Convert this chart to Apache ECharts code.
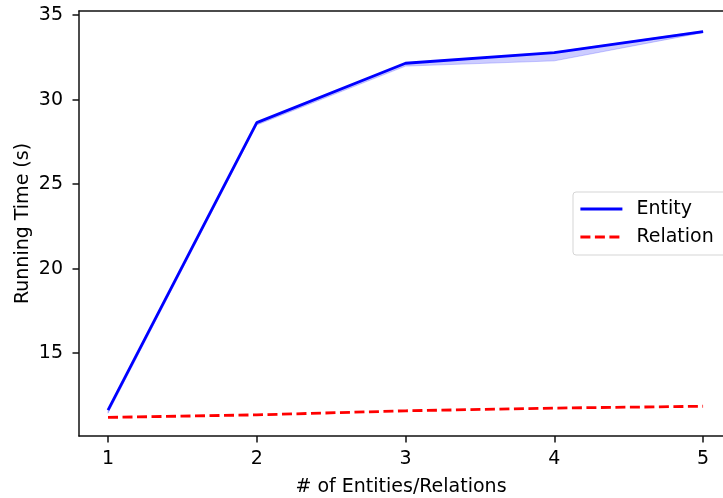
<!DOCTYPE html>
<html>
<head>
<meta charset="utf-8">
<script src="https://cdn.jsdelivr.net/npm/echarts@6/dist/echarts.min.js"></script>
<style>html,body{margin:0;padding:0;background:#fff}#c{width:723px;height:498px}</style>
</head>
<body>
<div id="c"></div>
<script>
const xValues = [1, 2, 3, 4, 5];
const entity = [11.63, 28.64, 32.15, 32.78, 34.02];
const entityLow = [11.45, 28.5, 31.98, 32.29, 33.96];
const entityHigh = [11.66, 28.66, 32.17, 32.8, 34.06];
const relation = [11.2, 11.35, 11.59, 11.75, 11.86];
const xTicks = [1, 2, 3, 4, 5];
const yTicks = [15, 20, 25, 30, 35];

const pair = (ys) => xValues.map((x, i) => [x, ys[i]]);
const FONT = 'DejaVu Sans';
const FS = 19;
const SPINE = {color: '#111', width: 1.5};

const chart = echarts.init(document.getElementById('c'), null, {renderer: 'canvas'});
chart.setOption({
  animation: false,
  backgroundColor: '#fff',
  textStyle: {fontFamily: FONT},
  grid: {left: 79, top: 11, right: 0, bottom: 62, show: false, containLabel: false, outerBoundsMode: 'none'},
  legend: {
    data: ['Entity', 'Relation'],
    orient: 'vertical',
    left: 573, top: 192,
    padding: [7, 20, 8, 6],
    itemWidth: 42, itemHeight: 14, itemGap: 8,
    borderColor: '#d5d5d5', borderWidth: 1, borderRadius: 3,
    backgroundColor: '#fff',
    itemStyle: {opacity: 0},
    lineStyle: {width: 2.8},
    textStyle: {fontFamily: FONT, fontSize: FS, color: '#000', lineHeight: 20, padding: [0, 0, 0, 9]}
  },
  xAxis: [{
    type: 'value', min: 0.805, max: 5.134, position: 'bottom',
    name: '# of Entities/Relations', nameLocation: 'middle', nameGap: 42,
    nameTextStyle: {fontFamily: FONT, fontSize: FS, color: '#000'},
    axisLine: {show: true, lineStyle: SPINE},
    axisTick: {show: true, length: 6.5, lineStyle: SPINE, customValues: xTicks},
    axisLabel: {fontFamily: FONT, fontSize: FS, color: '#000', margin: 14, customValues: xTicks},
    splitLine: {show: false}
  }, {
    type: 'value', min: 0.805, max: 5.134, position: 'top',
    axisLine: {show: true, lineStyle: SPINE},
    axisTick: {show: false}, axisLabel: {show: false}, splitLine: {show: false}
  }],
  yAxis: {
    type: 'value', min: 10.1, max: 35.24,
    name: 'Running Time (s)', nameLocation: 'middle', nameGap: 46, nameMoveOverlap: false,
    nameTextStyle: {fontFamily: FONT, fontSize: FS, color: '#000'},
    axisLine: {show: true, lineStyle: SPINE},
    axisTick: {show: true, length: 6.5, lineStyle: SPINE, customValues: yTicks},
    axisLabel: {fontFamily: FONT, fontSize: FS, color: '#000', margin: 16, customValues: yTicks},
    splitLine: {show: false}
  },
  series: [
    {name: 'band', type: 'custom', silent: true, z: 1,
     data: [[xValues[0], entityLow[0]]],
     renderItem: function (params, api) {
       const pts = [];
       for (let i = 0; i < xValues.length; i++) pts.push(api.coord([xValues[i], entityHigh[i]]));
       for (let i = xValues.length - 1; i >= 0; i--) pts.push(api.coord([xValues[i], entityLow[i]]));
       return {type: 'polygon', shape: {points: pts}, style: {fill: 'rgba(0,0,255,0.2)', stroke: 'rgba(0,0,255,0.2)', lineWidth: 1}};
     }},
    {name: 'Entity', type: 'line', data: pair(entity), symbol: 'none', showSymbol: false,
     lineStyle: {color: '#0000ff', width: 2.8}, itemStyle: {color: '#0000ff'}, z: 3},
    {name: 'Relation', type: 'line', data: pair(relation), symbol: 'none', showSymbol: false,
     lineStyle: {color: '#ff0000', width: 2.8, type: [10, 4.5]}, itemStyle: {color: '#ff0000'}, z: 3}
  ]
});
</script>
</body>
</html>
